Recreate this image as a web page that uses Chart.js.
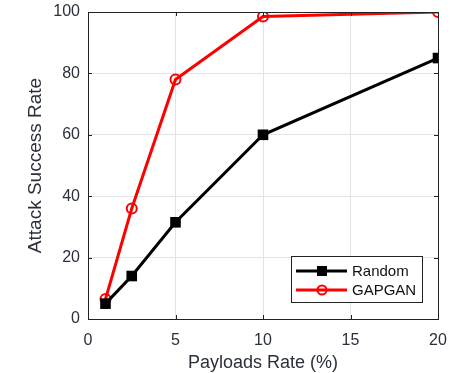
<!DOCTYPE html>
<html>
<head>
<meta charset="utf-8">
<script src="https://cdn.jsdelivr.net/npm/chart.js@4/dist/chart.umd.min.js"></script>
<style>
  html, body { margin: 0; padding: 0; background: #fff; }
  #wrap { width: 462px; height: 373px; }
</style>
</head>
<body>
<div id="wrap"><canvas id="c" width="462" height="373"></canvas></div>
<script>
// payload rates (%)
const payloads = [1, 2.5, 5, 10, 20];
// attack success rate per method
const randomRate = [5, 14, 31.5, 60, 85];
const gapganRate = [6.5, 36, 78, 98.5, 100];
const xTicks = [0, 5, 10, 15, 20];
const yTicks = [0, 20, 40, 60, 80, 100];

const textColor = '#2b2f3a';
const font = { family: 'Liberation Sans, Arial, sans-serif', size: 16 };

function toPoints(ys) {
    return payloads.map((x, i) => ({ x: x, y: ys[i] }));
}

// box around the plot + inner tick marks
const boxPlugin = {
    id: 'box',
    afterDraw(chart) {
        const { ctx, chartArea: a, scales } = chart;
        ctx.save();
        ctx.strokeStyle = '#222';
        ctx.lineWidth = 1;
        ctx.strokeRect(a.left + 0.5, a.top + 0.5, a.right - a.left, a.bottom - a.top);
        ctx.beginPath();
        xTicks.forEach(v => {
            const px = Math.round(scales.x.getPixelForValue(v)) + 0.5;
            ctx.moveTo(px, a.bottom); ctx.lineTo(px, a.bottom - 4);
            ctx.moveTo(px, a.top); ctx.lineTo(px, a.top + 4);
        });
        yTicks.forEach(v => {
            const py = Math.round(scales.y.getPixelForValue(v)) + 0.5;
            ctx.moveTo(a.left, py); ctx.lineTo(a.left + 4, py);
            ctx.moveTo(a.right, py); ctx.lineTo(a.right - 4, py);
        });
        ctx.stroke();
        ctx.restore();
    }
};

// legend drawn inside the plot, bottom right
const legendPlugin = {
    id: 'insideLegend',
    afterDraw(chart) {
        const { ctx, chartArea: a } = chart;
        const w = 131, h = 46;
        const x0 = a.right - 16 - w, y0 = a.bottom - 17 - h;
        ctx.save();
        ctx.fillStyle = '#fff';
        ctx.fillRect(x0, y0, w, h);
        ctx.strokeStyle = '#222';
        ctx.lineWidth = 1;
        ctx.strokeRect(x0 + 0.5, y0 + 0.5, w, h);
        chart.data.datasets.forEach((ds, i) => {
            const yy = y0 + 15 + i * 19;
            ctx.strokeStyle = ds.borderColor;
            ctx.lineWidth = 3;
            ctx.beginPath();
            ctx.moveTo(x0 + 5, yy); ctx.lineTo(x0 + 56, yy);
            ctx.stroke();
            const cx = x0 + 31;
            if (ds.pointStyle === 'rect') {
                ctx.fillStyle = ds.pointBackgroundColor;
                ctx.fillRect(cx - 5, yy - 5, 10, 10);
            } else {
                ctx.lineWidth = 2;
                ctx.fillStyle = ds.pointBackgroundColor;
                ctx.beginPath();
                ctx.arc(cx, yy, 4.5, 0, Math.PI * 2);
                ctx.fill();
                ctx.stroke();
            }
            ctx.fillStyle = '#111';
            ctx.font = '15px ' + font.family;
            ctx.textBaseline = 'middle';
            ctx.fillText(ds.label, x0 + 61, yy + 1);
        });
        ctx.restore();
    }
};

// keep the plot box where the reference has it
function noLabelPad(s) {
    s.paddingTop = 0; s.paddingBottom = 0;
    s.paddingLeft = 0; s.paddingRight = 0;
}

new Chart(document.getElementById('c').getContext('2d'), {
    type: 'scatter',
    data: {
        datasets: [
            {
                label: 'Random',
                data: toPoints(randomRate),
                showLine: true,
                borderColor: '#000',
                borderWidth: 3,
                pointStyle: 'rect',
                pointRadius: 7.5,
                pointBorderWidth: 0,
                pointBackgroundColor: '#000',
                pointBorderColor: '#000'
            },
            {
                label: 'GAPGAN',
                data: toPoints(gapganRate),
                showLine: true,
                borderColor: '#ff0000',
                borderWidth: 3,
                pointStyle: 'circle',
                pointRadius: 5,
                pointBorderWidth: 2,
                pointBackgroundColor: 'rgba(255,255,255,0)',
                pointBorderColor: '#ff0000'
            }
        ]
    },
    options: {
        responsive: false,
        animation: false,
        layout: { padding: { left: 0, top: 12, right: 24, bottom: 0 } },
        plugins: {
            legend: { display: false },
            tooltip: { enabled: false }
        },
        scales: {
            x: {
                type: 'linear',
                min: 0,
                max: 20,
                afterBuildTicks: s => { s.ticks = xTicks.map(v => ({ value: v })); },
                afterFit: s => { s.height = 54; noLabelPad(s); },
                grid: { color: '#e3e3e3', drawTicks: false },
                border: { display: false },
                ticks: { color: textColor, font: font, padding: 12, maxRotation: 0 },
                title: { display: true, text: 'Payloads Rate (%)', color: textColor,
                         font: { family: font.family, size: 18 }, padding: { top: 0, bottom: -1 } }
            },
            y: {
                type: 'linear',
                min: 0,
                max: 100,
                afterBuildTicks: s => { s.ticks = yTicks.map(v => ({ value: v })); },
                afterFit: s => { s.width = 88; noLabelPad(s); },
                grid: { color: '#e3e3e3', drawTicks: false },
                border: { display: false },
                ticks: { color: textColor, font: font, padding: 8 },
                title: { display: true, text: 'Attack Success Rate', color: textColor,
                         font: { family: font.family, size: 19 }, padding: { top: 24, bottom: 0 } }
            }
        }
    },
    plugins: [boxPlugin, legendPlugin]
});
</script>
</body>
</html>
